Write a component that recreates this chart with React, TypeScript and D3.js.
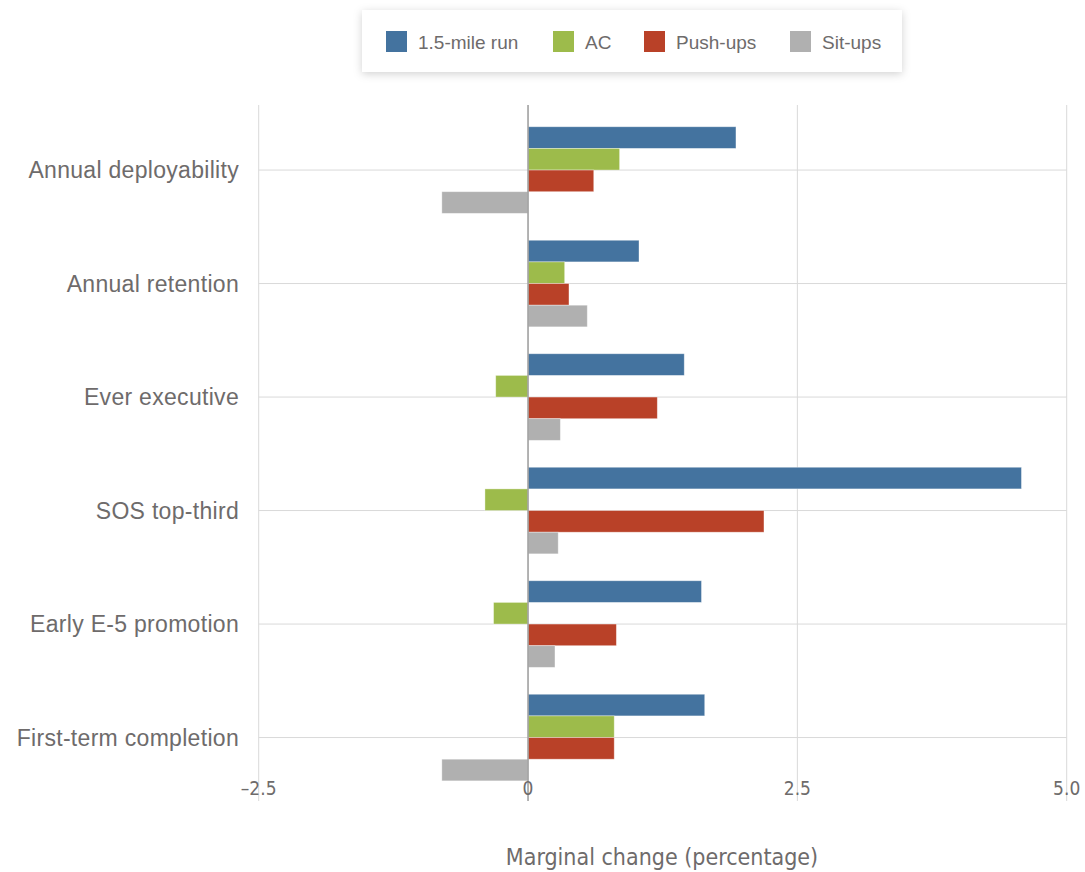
import React from "react";
import * as d3 from "d3";

const categories = [
  "Annual deployability",
  "Annual retention",
  "Ever executive",
  "SOS top-third",
  "Early E-5 promotion",
  "First-term completion",
];

const seriesNames = ["1.5-mile run", "AC", "Push-ups", "Sit-ups"];
const seriesColors = ["#44739f", "#9dbb4b", "#b94128", "#b0b0b0"];

const runValues = [1.93, 1.03, 1.45, 4.58, 1.61, 1.64];
const acValues = [0.85, 0.34, -0.3, -0.4, -0.32, 0.8];
const pushupValues = [0.61, 0.38, 1.2, 2.19, 0.82, 0.8];
const situpValues = [-0.8, 0.55, 0.3, 0.28, 0.25, -0.8];

const xTicks = [-2.5, 0, 2.5, 5.0];
const xTickLabels = ["\u20132.5", "0", "2.5", "5.0"];

const legendX = [386, 553, 644, 790];

const W = 1085;
const H = 872;
const textColor = "#6e6b6b";
const gridColor = "#d9d9d9";

export default function App() {
  const values = [runValues, acValues, pushupValues, situpValues];
  const x = d3.scaleLinear().domain([-2.5, 5]).range([258.7, 1066.7]);
  const y = d3.scaleBand<string>().domain(categories).range([113.3, 794.3]);
  const inner = d3
    .scaleBand<string>()
    .domain(seriesNames)
    .range([(y.bandwidth() - 86.6) / 2, (y.bandwidth() + 86.6) / 2]);

  const plotTop = 105;
  const plotBottom = 801;

  return (
    <svg
      width={W}
      height={H}
      style={{ position: "absolute", left: 0, top: 0, background: "#fff" }}
    >
      <defs>
        <filter id="legendShadow" x="-10%" y="-40%" width="120%" height="180%">
          <feDropShadow dx="0" dy="2" stdDeviation="4" floodColor="#000" floodOpacity="0.18" />
        </filter>
      </defs>

      {/* legend */}
      <rect x={362} y={10} width={540} height={62} fill="#fff" filter="url(#legendShadow)" />
      {seriesNames.map((s, i) => (
        <g key={s}>
          <rect x={legendX[i]} y={31} width={21} height={21} fill={seriesColors[i]} />
          <text
            x={legendX[i] + 32}
            y={48.5}
            fontFamily="'Liberation Sans', Arial, sans-serif"
            fontSize={19}
            fill={textColor}
          >
            {s}
          </text>
        </g>
      ))}

      {/* vertical gridlines */}
      {xTicks
        .filter((t) => t !== 0)
        .map((t) => (
          <line
            key={t}
            x1={x(t)}
            x2={x(t)}
            y1={plotTop}
            y2={plotBottom}
            stroke={gridColor}
            strokeWidth={1}
          />
        ))}

      {/* horizontal gridlines at category centres */}
      {categories.map((c) => {
        const cy = (y(c) as number) + y.bandwidth() / 2;
        return (
          <line
            key={c}
            x1={x(-2.5)}
            x2={x(5)}
            y1={cy}
            y2={cy}
            stroke={gridColor}
            strokeWidth={1}
          />
        );
      })}

      {/* bars */}
      {categories.map((c, ci) =>
        seriesNames.map((s, si) => {
          const v = values[si][ci];
          const x0 = x(Math.min(0, v));
          const x1 = x(Math.max(0, v));
          return (
            <rect
              key={c + s}
              x={x0}
              y={(y(c) as number) + (inner(s) as number)}
              width={x1 - x0}
              height={inner.bandwidth()}
              fill={seriesColors[si]}
              stroke="#ffffff"
              strokeOpacity={0.45}
              strokeWidth={0.8}
            />
          );
        })
      )}

      {/* zero axis */}
      <line
        x1={x(0)}
        x2={x(0)}
        y1={plotTop}
        y2={plotBottom}
        stroke="#a0a0a0"
        strokeWidth={1.6}
      />

      {/* category labels */}
      {categories.map((c) => (
        <text
          key={c}
          x={239}
          y={(y(c) as number) + y.bandwidth() / 2 + 8}
          textAnchor="end"
          fontFamily="'Liberation Sans', Arial, sans-serif"
          fontSize={23}
          letterSpacing={0.3}
          fill={textColor}
        >
          {c}
        </text>
      ))}

      {/* tick labels */}
      {xTicks.map((t, i) => (
        <text
          key={t}
          x={x(t)}
          y={795}
          textAnchor="middle"
          fontFamily="'Liberation Sans Narrow', 'DejaVu Sans Condensed', sans-serif"
          fontSize={19}
          fill={textColor}
        >
          {xTickLabels[i]}
        </text>
      ))}

      {/* axis title */}
      <text
        x={662}
        y={865}
        textAnchor="middle"
        fontFamily="'Liberation Sans Narrow', 'DejaVu Sans Condensed', sans-serif"
        fontSize={23}
        fill={textColor}
      >
        Marginal change (percentage)
      </text>
    </svg>
  );
}
